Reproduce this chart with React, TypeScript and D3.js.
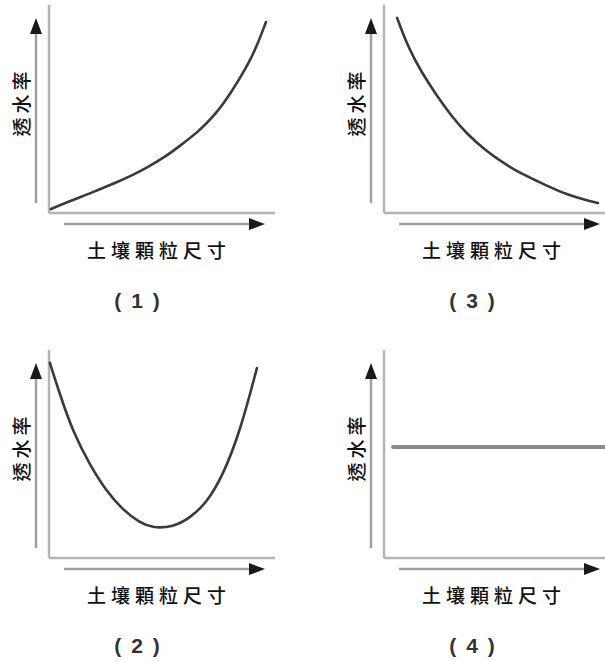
import React from 'react';
import * as d3 from 'd3';

// curve points, in a 0–10 unit space on both axes
const curve1X = [0.09, 0.71, 1.42, 2.17, 2.92, 3.63, 4.38, 5.13, 5.84, 6.59, 7.35, 8.05, 8.81, 9.25, 9.6];
const curve1Y = [0.19, 0.48, 0.77, 1.11, 1.44, 1.78, 2.21, 2.69, 3.27, 3.89, 4.71, 5.77, 7.12, 8.17, 9.18];

const curve2X = [0.04, 0.49, 1.06, 1.81, 2.57, 3.27, 4.03, 4.6, 5.49, 6.24, 7.0, 7.7, 8.45, 9.2];
const curve2Y = [9.38, 7.84, 6.06, 4.47, 3.17, 2.31, 1.68, 1.44, 1.49, 1.92, 2.69, 3.99, 6.06, 9.13];

const curve3X = [0.58, 1.06, 1.68, 2.26, 3.01, 3.72, 4.47, 5.22, 5.93, 6.68, 7.43, 8.14, 8.89, 9.47];
const curve3Y = [9.38, 7.98, 6.73, 5.77, 4.62, 3.75, 3.03, 2.45, 1.97, 1.59, 1.2, 0.87, 0.63, 0.48];

const curve4X = [0.4, 10];
const curve4Y = [5.34, 5.34];

const yLabel = '透水率';
const xLabel = '土壤顆粒尺寸';
const panelTags = ['(1)', '(2)', '(3)', '(4)'];

const W = 605;
const H = 661;
const plotW = 226;
const plotH = 208;

const xScale = d3.scaleLinear().domain([0, 10]).range([0, plotW]);
const yScale = d3.scaleLinear().domain([0, 10]).range([plotH, 0]);

const line = d3
  .line<[number, number]>()
  .x((d) => xScale(d[0]))
  .y((d) => yScale(d[1]))
  .curve(d3.curveBasis);

const zip = (xs: number[], ys: number[]) =>
  xs.map((x, i) => [x, ys[i]] as [number, number]);

const panels = [
  { ox: 49, top: 5, pts: zip(curve1X, curve1Y), tag: panelTags[0], flat: false },
  { ox: 384, top: 5, pts: zip(curve3X, curve3Y), tag: panelTags[2], flat: false },
  { ox: 49, top: 350, pts: zip(curve2X, curve2Y), tag: panelTags[1], flat: false },
  { ox: 384, top: 350, pts: zip(curve4X, curve4Y), tag: panelTags[3], flat: true },
];

const cjk = '"Noto Sans CJK TC", "Noto Sans CJK SC", sans-serif';

const Panel = ({ ox, top, pts, tag, flat }) => (
  <g transform={`translate(${ox},${top})`}>
    {/* frame axes */}
    <line x1={0} y1={0} x2={0} y2={plotH} stroke="#b4b4b4" strokeWidth={2.5} />
    <line x1={0} y1={plotH} x2={plotW} y2={plotH} stroke="#b4b4b4" strokeWidth={2.5} />

    {/* y arrow */}
    <line x1={-13} y1={plotH - 10} x2={-13} y2={26} stroke="#a0a0a0" strokeWidth={2.5} />
    <path d={`M${-13},13 L${-19},29 L${-7},29 Z`} fill="#1a1a1a" />

    {/* x arrow */}
    <line x1={15} y1={plotH + 11} x2={205} y2={plotH + 11} stroke="#a0a0a0" strokeWidth={2.5} />
    <path d={`M${216},${plotH + 11} L${200},${plotH + 5} L${200},${plotH + 17} Z`} fill="#1a1a1a" />

    <path
      d={line(pts) || ''}
      fill="none"
      stroke={flat ? '#8a8a8a' : '#3a3a3a'}
      strokeWidth={flat ? 4 : 2.6}
      strokeLinecap="round"
    />

    <text
      transform={`translate(${-29},${99}) rotate(-90)`}
      textAnchor="middle"
      dominantBaseline="central"
      fontFamily={cjk}
      fontSize={19}
      fontWeight={500}
      letterSpacing={4}
      dx={2}
      fill="#111"
    >
      {yLabel}
    </text>

    <text
      x={110}
      y={plotH + 36}
      textAnchor="middle"
      dominantBaseline="central"
      fontFamily={cjk}
      fontSize={19}
      fontWeight={500}
      letterSpacing={5}
      fill="#111"
    >
      {xLabel}
    </text>

    <text
      x={93}
      y={plotH + 87}
      textAnchor="middle"
      dominantBaseline="central"
      fontFamily="'Liberation Sans', Arial, sans-serif"
      fontWeight="bold"
      fontSize={21}
      letterSpacing={10}
      fill="#333"
    >
      {tag}
    </text>
  </g>
);

export default function App() {
  return (
    <svg
      width={W}
      height={H}
      style={{ position: 'absolute', left: 0, top: 0, background: '#fff' }}
    >
      <rect width={W} height={H} fill="#fff" />
      {panels.map((p, i) => (
        <Panel key={i} {...p} />
      ))}
    </svg>
  );
}
